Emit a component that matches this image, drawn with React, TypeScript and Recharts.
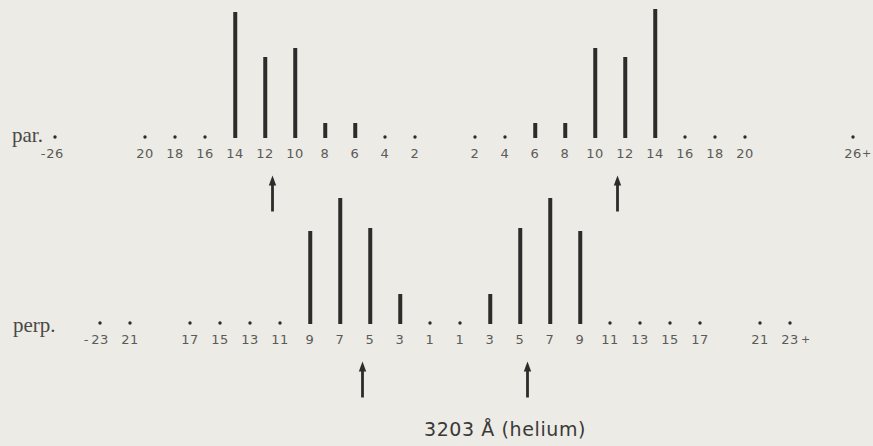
import { ComposedChart, Bar, Scatter, XAxis, YAxis } from "recharts";

// ─── data ────────────────────────────────────────────────────────────────────

// parallel components: position (in units of the Lorentz splitting), label, intensity
const parPos = [-26, -20, -18, -16, -14, -12, -10, -8, -6, -4, -2, 2, 4, 6, 8, 10, 12, 14, 16, 18, 20, 27.2];
const parLabels = ["-26", "20", "18", "16", "14", "12", "10", "8", "6", "4", "2", "2", "4", "6", "8", "10", "12", "14", "16", "18", "20", "26+"];
const parIntensity = [0, 0, 0, 0, 42, 27, 30, 5, 5, 0, 0, 0, 0, 5, 5, 30, 27, 43, 0, 0, 0, 0];
const parArrows = [-11.5, 11.5];

// perpendicular components
const perpPos = [-23, -21, -17, -15, -13, -11, -9, -7, -5, -3, -1, 1, 3, 5, 7, 9, 11, 13, 15, 17, 21, 23];
const perpLabels = ["- 23", "21", "17", "15", "13", "11", "9", "7", "5", "3", "1", "1", "3", "5", "7", "9", "11", "13", "15", "17", "21", "23 +"];
const perpIntensity = [0, 0, 0, 0, 0, 0, 31, 42, 32, 10, 0, 0, 10, 32, 42, 31, 0, 0, 0, 0, 0, 0];
const perpArrows = [-5.5, 5.5];

const ARROW_Y = -12.5;

const W = 873;
const H = 446;
const BG = "#ecebe6";
const INK = "#2e2c2a";
const LABEL = "#5b5a58";
const SANS = "'DejaVu Sans', sans-serif";

// ─── shapes ──────────────────────────────────────────────────────────────────

function Dot(props: any) {
  const { cx, cy } = props;
  return <circle cx={cx} cy={cy - 1} r={1.7} fill={INK} />;
}

function Tick(props: any) {
  const { cx, cy, payload } = props;
  const raw: string = payload.label;
  let prefix = "";
  let suffix = "";
  let num = raw;
  if (raw.startsWith("-")) {
    prefix = "-";
    num = raw.replace(/^-\s*/, "");
  }
  if (raw.endsWith("+")) {
    suffix = "+";
    num = raw.replace(/\s*\+$/, "");
  }
  const gapL = raw.startsWith("- ") ? 11 : 9;
  const gapR = raw.endsWith(" +") ? 11 : 9;
  const ty = cy + 20;
  const style = { fontFamily: SANS, fontSize: 13, fill: LABEL, letterSpacing: 0.6 };
  return (
    <g>
      <text x={cx} y={ty} textAnchor="middle" style={style}>
        {num}
      </text>
      {prefix && (
        <text x={cx - gapL} y={ty} textAnchor="end" style={style}>
          {prefix}
        </text>
      )}
      {suffix && (
        <text x={cx + gapR} y={ty - 1} textAnchor="start" style={{ ...style, fontSize: 11 }}>
          {suffix}
        </text>
      )}
    </g>
  );
}

function Arrow(props: any) {
  const { cx, cy } = props;
  return (
    <g>
      <line x1={cx} y1={cy + 8} x2={cx} y2={cy + 36} stroke={INK} strokeWidth={2.8} />
      <path d={`M ${cx} ${cy} L ${cx - 3.7} ${cy + 10} L ${cx + 3.7} ${cy + 10} Z`} fill={INK} />
    </g>
  );
}

// ─── one row of the pattern ─────────────────────────────────────────────────

interface RowProps {
  pos: number[];
  labels: string[];
  intensity: number[];
  arrows: number[];
  yDomain: [number, number];
}

function Row({ pos, labels, intensity, arrows, yDomain }: RowProps) {
  const data = pos.map((x, i) => ({ x, label: labels[i], intensity: intensity[i], base: 0 }));
  const dots = data.filter((d) => d.intensity === 0);
  const arrowData = arrows.map((x) => ({ x, base: ARROW_Y }));
  return (
    <div style={{ position: "absolute", left: 0, top: 0 }}>
      <ComposedChart
        width={W}
        height={H}
        data={data}
        margin={{ top: 6, right: 8, bottom: 8, left: 25 }}
        style={{ overflow: "visible" }}
      >
        <XAxis type="number" dataKey="x" domain={[-28, 28]} hide />
        <YAxis type="number" domain={yDomain} hide />
        <Bar dataKey="intensity" barSize={4} fill={INK} isAnimationActive={false} />
        <Scatter data={dots} dataKey="base" shape={Dot} isAnimationActive={false} />
        <Scatter data={data} dataKey="base" shape={Tick} isAnimationActive={false} />
        <Scatter data={arrowData} dataKey="base" shape={Arrow} isAnimationActive={false} />
      </ComposedChart>
    </div>
  );
}

export default function App() {
  return (
    <div style={{ position: "fixed", left: 0, top: 0, width: W, height: H, background: BG, overflow: "hidden" }}>
      <Row pos={parPos} labels={parLabels} intensity={parIntensity} arrows={parArrows} yDomain={[-100, 44]} />
      <Row pos={perpPos} labels={perpLabels} intensity={perpIntensity} arrows={perpArrows} yDomain={[-38, 106]} />
      <svg width={W} height={H} style={{ position: "absolute", left: 0, top: 0, pointerEvents: "none" }}>
        <text x={12} y={142} style={{ fontFamily: "'Liberation Serif', serif", fontSize: 21, fill: "#4a4846" }}>
          par.
        </text>
        <text x={13} y={332} style={{ fontFamily: "'Liberation Serif', serif", fontSize: 21, fill: "#4a4846" }}>
          perp.
        </text>
        <text
          x={505}
          y={436}
          textAnchor="middle"
          style={{ fontFamily: SANS, fontSize: 19, fill: "#3a3937", letterSpacing: 0.6 }}
        >
          3203 Å (helium)
        </text>
      </svg>
    </div>
  );
}
